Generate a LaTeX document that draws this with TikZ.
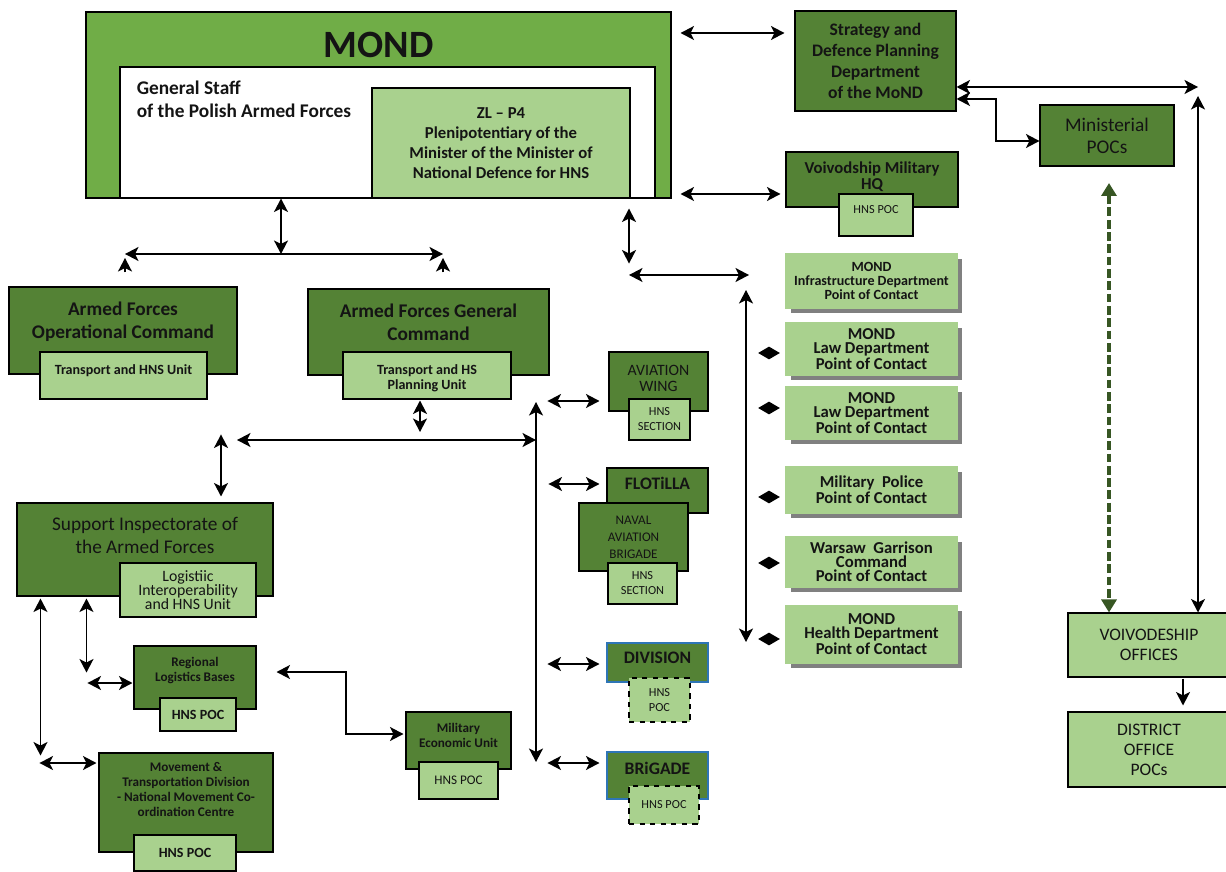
\documentclass[tikz,border=0pt]{standalone}
\usepackage{fontspec}
\setmainfont{Carlito}
\usetikzlibrary{positioning, arrows.meta, calc, shapes.geometric, shadows}

\definecolor{mondgreen}{HTML}{70AD47}
\definecolor{darkgreen}{HTML}{548235}
\definecolor{lightgreen}{HTML}{A9D18E}
\definecolor{deepgreen}{HTML}{375623}
\definecolor{unitblue}{HTML}{2E75B6}
\definecolor{ink}{HTML}{141414}

\tikzset{
    >={Stealth[length=2.7mm, width=2.8mm, inset=0.7mm]}, % bold arrow heads
    every node/.style={text=ink},
    sz/.style 2 args={minimum width=#1*0.2mm, minimum height=#2*0.2mm}, % size in pixels
    box/.style={rectangle, draw=black, line width=0.6pt, inner sep=0pt, align=center},
    dbox/.style={box, fill=darkgreen},
    lbox/.style={box, fill=lightgreen},
    ubox/.style={box, draw=unitblue, fill=darkgreen},
    pbox/.style={box, dashed, fill=lightgreen},
    pocbox/.style={box, draw=lightgreen, fill=lightgreen,
        drop shadow={shadow xshift=1mm, shadow yshift=-1mm, fill=black!50, opacity=1}},
    txt/.style={inner sep=0pt, align=center},
    link/.style={<->, line width=0.9pt},
    dlink/.style={{Triangle[length=2.6mm, width=3mm]}-{Triangle[length=2.6mm, width=3mm]},
        draw=deepgreen, line width=2pt, dash pattern=on 5pt off 2pt},
    dmd/.style={diamond, fill=black, inner sep=0pt, minimum width=4.4mm, minimum height=2.6mm},
    % fonts
    hd/.style={font=\fontsize{11}{13}\selectfont\bfseries},
    md/.style={font=\fontsize{10}{11.9}\selectfont\bfseries},
    sb/.style={font=\fontsize{7.5}{8.5}\selectfont\bfseries},
    poc/.style={font=\fontsize{9.5}{8}\selectfont\bfseries},
    sm/.style={font=\fontsize{7}{8.5}\selectfont},
    capf/.style={font=\fontsize{10}{12}\selectfont\bfseries},
}

\begin{document}
\begin{tikzpicture}[x=0.2mm, y=-0.2mm]
\useasboundingbox (0,0) rectangle (1226,872);

% MOND and General Staff
\node[box, fill=mondgreen, sz={585}{186}] (mond) at (378.5,105) {};
\node[txt, font=\fontsize{22}{24}\selectfont\bfseries, below=4mm of mond.north] (mondt) {MOND};
\node[box, fill=white, sz={535}{131}] (gs) at (387.5,132.5) {};
\node[txt, hd, align=left, below right=2.8mm and 3.4mm of gs.north west] (gst) {General Staff\\of the Polish Armed Forces};
\node[lbox, sz={258}{110}, font=\fontsize{9.5}{11.3}\selectfont\bfseries] (zl) at (501,143) {ZL – P4\\Plenipotentiary of the\\Minister of the Minister of\\National Defence for HNS};

% ministry side
\node[dbox, md, sz={161}{100}] (sdp) at (875.5,61) {Strategy and\\Defence Planning\\Department\\of the MoND};
\node[dbox, sz={134}{61}, font=\fontsize{11}{12.5}\selectfont] (mpoc) at (1107,135.5) {Ministerial\\POCs};
\node[dbox, sz={172}{55}] (hq) at (872,179.5) {};
\node[txt, font=\fontsize{9.5}{9}\selectfont\bfseries, below=2mm of hq.north] (hqt) {Voivodship Military\\HQ};
\node[lbox, sm, sz={74}{42}, text depth=2.2mm] (hqp) at (876,215) {HNS POC};
\node[lbox, sz={162}{64}, font=\fontsize{10}{11.3}\selectfont] (vo) at (1149,645) {VOIVODESHIP\\OFFICES};
\node[lbox, sz={162}{75}, font=\fontsize{10}{11.3}\selectfont] (dist) at (1149,749.5) {DISTRICT\\OFFICE\\POCs};

% commands
\node[dbox, sz={228}{87}] (afoc) at (123,330.5) {};
\node[txt, hd, below=3mm of afoc.north] (afoct) {Armed Forces\\Operational Command};
\node[lbox, sz={167}{47}] (afocu) at (123.5,375.5) {};
\node[txt, font=\fontsize{8}{8.5}\selectfont\bfseries, below=2.6mm of afocu.north] (afocut) {Transport and HNS Unit};
\node[dbox, sz={241}{86}] (afgc) at (428.5,332) {};
\node[txt, hd, below=3mm of afgc.north] (afgct) {Armed Forces General\\Command};
\node[lbox, sz={168}{47}] (afgcu) at (427,375.5) {};
\node[txt, font=\fontsize{8}{8.5}\selectfont\bfseries, below=2.6mm of afgcu.north] (afgcut) {Transport and HS\\Planning Unit};

% logistics
\node[dbox, sz={256}{93}] (si) at (145,549.5) {};
\node[txt, font=\fontsize{11}{13.5}\selectfont, below=2.8mm of si.north] (sit) {Support Inspectorate of\\the Armed Forces};
\node[lbox, sz={136}{54}, font=\fontsize{9}{8}\selectfont] (siu) at (188,590) {Logistiic\\Interoperability\\and HNS Unit};
\node[dbox, sz={122}{63}] (rlb) at (195,677.5) {};
\node[txt, sb, below=2.2mm of rlb.north] (rlbt) {Regional\\Logistics Bases};
\node[lbox, sz={76}{33}, font=\fontsize{8}{9}\selectfont\bfseries] (rlbp) at (198,714.5) {HNS POC};
\node[dbox, sz={174}{99}] (mtd) at (186,802.5) {};
\node[txt, sb, below=2mm of mtd.north] (mtdt) {Movement \&\\Transportation Division\\- National Movement Co-\\ordination Centre};
\node[lbox, sz={102}{36}, font=\fontsize{8}{9}\selectfont\bfseries] (mtdp) at (185,853) {HNS POC};
\node[dbox, sz={105}{57}] (meu) at (458.5,740.5) {};
\node[txt, sb, below=2.2mm of meu.north] (meut) {Military\\Economic Unit};
\node[lbox, sz={79}{37}, font=\fontsize{7.5}{9}\selectfont] (meup) at (458.5,780.5) {HNS POC};

% units
\node[dbox, sz={99}{59}] (aw) at (658.5,381.5) {};
\node[txt, font=\fontsize{9}{9.6}\selectfont, below=2.6mm of aw.north] (awt) {AVIATION\\WING};
\node[lbox, sm, sz={61}{41}] (awp) at (659.5,419.5) {HNS\\SECTION};
\node[dbox, sz={101}{45}] (flo) at (657.5,490.5) {};
\node[txt, capf, below=1.8mm of flo.north] (flot) {FLOTiLLA};
\node[dbox, sz={109}{68}, font=\fontsize{7.5}{9.6}\selectfont] (nab) at (633.5,537) {NAVAL\\AVIATION\\BRIGADE};
\node[lbox, sm, sz={69}{41}] (nabp) at (642.5,583.5) {HNS\\SECTION};
\node[ubox, sz={101}{39}] (div) at (657.5,662.5) {};
\node[txt, capf, below=1.8mm of div.north] (divt) {DIVISION};
\node[pbox, sm, sz={61}{44}] (divp) at (659.5,700) {HNS\\POC};
\node[ubox, sz={101}{47}] (brig) at (657.5,775.5) {};
\node[txt, capf, below=2mm of brig.north] (brigt) {BRiGADE};
\node[pbox, sm, sz={70}{38}] (brigp) at (664,805) {HNS POC};

% points of contact
\node[pocbox, sz={171}{54}, font=\fontsize{8}{8}\selectfont\bfseries] (infra) at (871.5,281) {MOND\\Infrastructure Department\\Point of Contact};
\node[pocbox, poc, sz={171}{52}] (law1) at (871.5,349) {MOND\\Law Department\\Point of Contact};
\node[pocbox, poc, sz={171}{52}] (law2) at (871.5,413) {MOND\\Law Department\\Point of Contact};
\node[pocbox, poc, sz={171}{46}] (mp) at (871.5,490) {Military~~Police\\Point of Contact};
\node[pocbox, poc, sz={171}{50}] (wgc) at (871.5,562) {Warsaw~~Garrison\\Command\\Point of Contact};
\node[pocbox, poc, sz={171}{57}] (health) at (871.5,634.5) {MOND\\Health Department\\Point of Contact};
\node[dmd] (d1) at (769,353) {};
\node[dmd] (d2) at (769,408) {};
\node[dmd] (d3) at (769,497) {};
\node[dmd] (d4) at (769,563) {};
\node[dmd] (d5) at (769,639) {};

% junctions
\coordinate (m1) at (680,33);
\coordinate (m2) at (680,194);
\coordinate (c1) at (1198,87);
\coordinate (c2) at (996,99);
\coordinate (g1) at (1109,183);
\coordinate (j1) at (281,254);
\coordinate (j2) at (125,254);
\coordinate (j3) at (443,254);
\coordinate (j4) at (420,440);
\coordinate (j5) at (237,440);
\coordinate (v1) at (536,402);
\coordinate (v2) at (536,762);
\coordinate (h1) at (629,275);
\coordinate (h2) at (749,275);
\coordinate (h3) at (746,290);
\coordinate (h4) at (746,642);
\coordinate (k1) at (346,672);

\draw[link] ($(mond.east |- m1)+(9,0)$) -- ($(sdp.west |- m1)+(-10,0)$);
\draw[link] ($(mond.east |- m2)+(9,0)$) -- ($(hq.west |- m2)+(-5,0)$);
\draw[link] (sdp.east |- c1) -- (c1);
\draw[link] ($(c1)+(0,9)$) -- (c1 |- vo.north);
\draw[link] (sdp.east |- c2) -- (c2) |- ($(mpoc.west)+(0,5.5)$);
\draw[dlink] (g1) -- (g1 |- vo.north);
\draw[->, line width=0.9pt] ($(vo.south)+(34,1)$) -- ($(dist.north)+(34,-6)$);

\draw[link] (mond.south -| j1) -- (j1);
\draw[link] (j2) -- (j3);
\draw[->, line width=0.9pt] ($(afoc.north -| j2)+(0,-14)$) -- ($(j2)+(0,4)$);
\draw[->, line width=0.9pt] ($(afgc.north -| j3)+(0,-16)$) -- ($(j3)+(0,4)$);
\draw[link] ($(afgcu.south -| j4)+(0,1)$) -- ($(j4)+(0,-8)$);
\draw[link] (j5) -- (j5 -| v1);
\draw[link] ($(si.north)+(76,-68)$) -- ($(si.north)+(76,-6)$);
\draw[link] (v1) -- (v2);

\draw[link] ($(aw.west)+(-61,19.5)$) -- ($(aw.west)+(-9,19.5)$);
\draw[link] ($(flo.west)+(-58,-6.5)$) -- ($(flo.west)+(-7,-6.5)$);
\draw[link] ($(div.west)+(-59,1.5)$) -- ($(div.west)+(-7,1.5)$);
\draw[link] ($(brig.west)+(-59,-12.5)$) -- ($(brig.west)+(-7,-12.5)$);

\draw[link] ($(zl.south)+(128,10)$) -- ($(zl.south)+(128,65)$);
\draw[link] (h1) -- (h2);
\draw[link] (h3) -- (h4);

\draw[link] ($(si.south west)+(24,2)$) -- ($(si.south west)+(24,159)$);
\draw[link] ($(si.south west)+(70,2)$) -- ($(si.south west)+(70,76)$);
\draw[link] ($(rlb.west)+(-46,5.5)$) -- ($(rlb.west)+(-1,5.5)$);
\draw[link] ($(mtd.west)+(-59,-39.5)$) -- ($(mtd.west)+(-2,-39.5)$);
\draw[link] ($(rlb.east |- k1)+(20,0)$) -- (k1) |- ($(meu.west)+(-2,-6.5)$);

\end{tikzpicture}
\end{document}
